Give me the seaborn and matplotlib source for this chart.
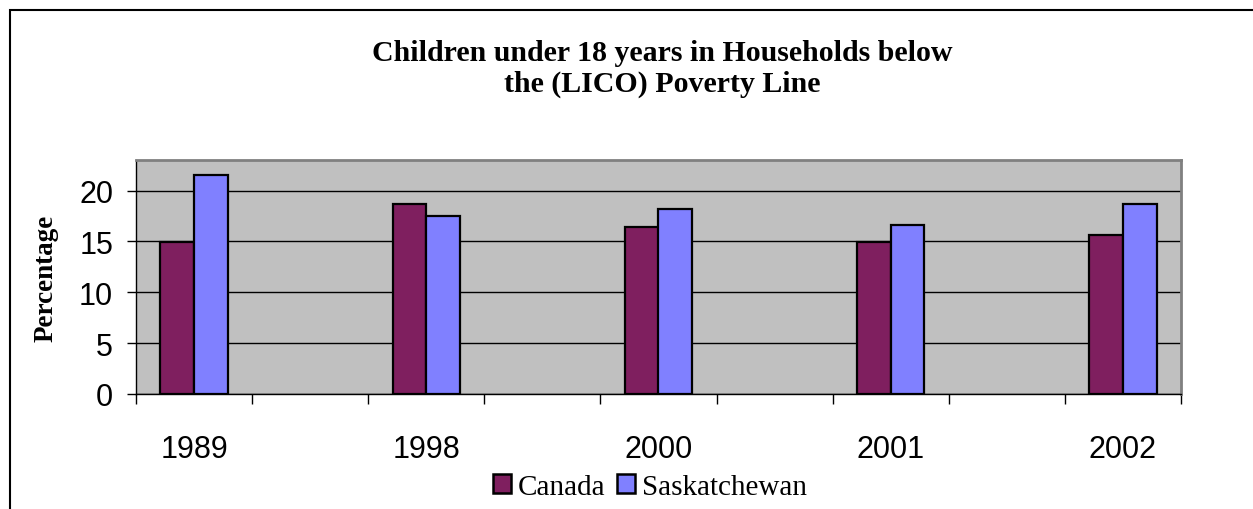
import matplotlib
matplotlib.use("Agg")
import matplotlib.pyplot as plt
from matplotlib.patches import Rectangle, Patch
import seaborn as sns
import pandas as pd

# Data
years = ["1989", "1998", "2000", "2001", "2002"]
canada = [14.9, 18.7, 16.4, 14.9, 15.6]
saskatchewan = [21.5, 17.5, 18.2, 16.6, 18.7]
series = ["Canada", "Saskatchewan"]
colors = ["#7F1F5F", "#8080FF"]
y_ticks = [0, 5, 10, 15, 20]

df = pd.DataFrame({
    "Year": years * 2,
    "Region": [series[0]] * len(years) + [series[1]] * len(years),
    "Value": canada + saskatchewan,
})

W, H = 1253, 510
fig = plt.figure(figsize=(W / 100, H / 100), dpi=100)
ax = fig.add_axes([136 / W, 115 / H, 1045 / W, 234 / H])
ax.set_facecolor("#C0C0C0")

sns.barplot(
    data=df, x="Year", y="Value", hue="Region",
    order=years, hue_order=series, palette=colors,
    width=0.29, saturation=1, edgecolor="black", linewidth=1.6,
    legend=False, ax=ax, zorder=3,
)

# Axes ranges: each year sits in the middle of a pair of slots
ax.set_xlim(-0.25, len(years) - 0.75)
ax.set_ylim(0, 23)

# Horizontal gridlines
ax.set_yticks(y_ticks)
ax.yaxis.grid(True, color="black", linewidth=1.0, zorder=1)
ax.xaxis.grid(False)
ax.set_axisbelow(True)

# Category labels at centers, tick marks at slot boundaries
ax.set_xticks(range(len(years)))
ax.set_xticklabels(years, fontfamily="Liberation Sans", fontsize=22)
ax.set_xticks([-0.25 + 0.5 * k for k in range(2 * len(years))], minor=True)
ax.tick_params(axis="x", which="major", length=0, pad=29)
ax.tick_params(axis="x", which="minor", length=7, width=1, direction="out", color="black")
ax.tick_params(axis="y", length=6.5, width=1, direction="out", pad=10, color="black")
for lbl in ax.get_yticklabels():
    lbl.set_fontfamily("Liberation Sans")
    lbl.set_fontsize(22)

ax.set_xlabel("")
ax.set_ylabel("Percentage", fontfamily="Liberation Serif", fontweight="bold", fontsize=19.5)
ax.yaxis.set_label_coords(-0.074, 0.5)

for side in ["left", "bottom"]:
    ax.spines[side].set_color("black")
    ax.spines[side].set_linewidth(1.0)
for side in ["top", "right"]:
    ax.spines[side].set_color("#808080")
    ax.spines[side].set_linewidth(2.0)

# Title
fig.text(662 / W, 1 - 61 / H, "Children under 18 years in Households below",
         ha="center", va="baseline", fontfamily="Liberation Serif",
         fontweight="bold", fontsize=21.5)
fig.text(662 / W, 1 - 92 / H, "the (LICO) Poverty Line",
         ha="center", va="baseline", fontfamily="Liberation Serif",
         fontweight="bold", fontsize=21.5)

# Legend
handles = [Patch(facecolor=c, edgecolor="black", linewidth=1.8, label=s)
           for c, s in zip(colors, series)]
fig.legend(handles=handles, loc="center", bbox_to_anchor=(650 / W, 1 - 488 / H),
           ncol=2, frameon=False, handlelength=0.6, handleheight=0.6,
           handletextpad=0.25, columnspacing=0.4,
           prop={"family": "Liberation Serif", "size": 21})

# Chart border
fig.patches.append(Rectangle((10 / W, -0.2), 1.2, 1.2 + (H - 11) / H - 1,
                             transform=fig.transFigure, fill=False,
                             edgecolor="black", linewidth=1.5))

fig.savefig("out.png", dpi=100)
